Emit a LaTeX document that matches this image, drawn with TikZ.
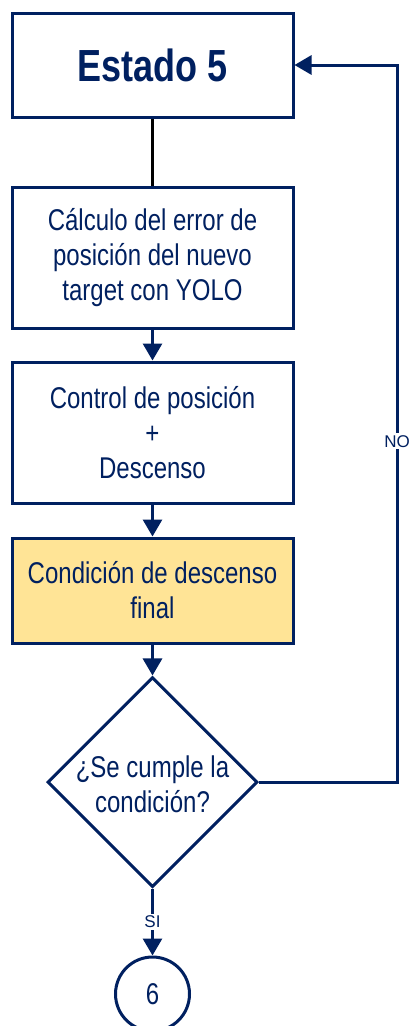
\documentclass[tikz,border=0pt]{standalone}
\usepackage{fontspec}
\setmainfont[FakeStretch=0.8]{Liberation Sans}
\newfontfamily\labfont{Liberation Sans}
\usetikzlibrary{shapes.geometric,arrows.meta}
\definecolor{navy}{RGB}{0,32,96}
\definecolor{gold}{RGB}{255,228,150}
\begin{document}
\begin{tikzpicture}[x=1pt,y=-1pt,
  txt/.style={text=navy,align=center,inner sep=0pt,font=\fontsize{30}{35}\selectfont},
  box/.style={txt,draw=navy,line width=3pt,rectangle,minimum width=281pt},
  dec/.style={draw=navy,line width=3pt,diamond,minimum width=210pt,minimum height=210pt,inner sep=0pt},
  term/.style={txt,draw=navy,line width=3pt,circle,minimum size=74pt},
  arr/.style={draw=navy,line width=3pt,-{Triangle[width=19pt,length=17pt]}},
  lab/.style={fill=white,text=navy,inner sep=2pt,font=\labfont\fontsize{17}{19}\selectfont}]
\useasboundingbox[fill=white] (0,0) rectangle (410,1026);
\node[box,minimum height=104pt] (b1) at (152.5,65) {\fontsize{45}{50}\selectfont\bfseries Estado 5};
\node[box,minimum height=141pt] (b2) at (152.5,257.5) {Cálculo del error de\\posición del nuevo\\target con YOLO};
\node[box,minimum height=141pt] (b3) at (152.5,432.5) {Control de posición\\+\\Descenso};
\node[box,fill=gold,minimum height=105pt] (b4) at (152.5,590.5) {Condición de descenso\\final};
\node[dec] (d) at (152.5,782) {};
\node[txt] (dt) at (152.5,784) {¿Se cumple la\\condición?};
\node[term] (c) at (152.5,994) {6};
\coordinate (nr) at (397,782);
\coordinate (nt) at (397,65);
\draw[black,line width=3pt] (b1) -- (b2);
\draw[arr] (b2) -- (b3);
\draw[arr] (b3) -- (b4);
\draw[arr] (b4) -- (d);
\draw[arr] (d) -- node[lab,pos=0.5]{SI} (c);
\draw[arr] (d.east) -- (nr) -- node[lab,pos=0.475]{NO} (nt) -- (b1.east);
\end{tikzpicture}
\end{document}
